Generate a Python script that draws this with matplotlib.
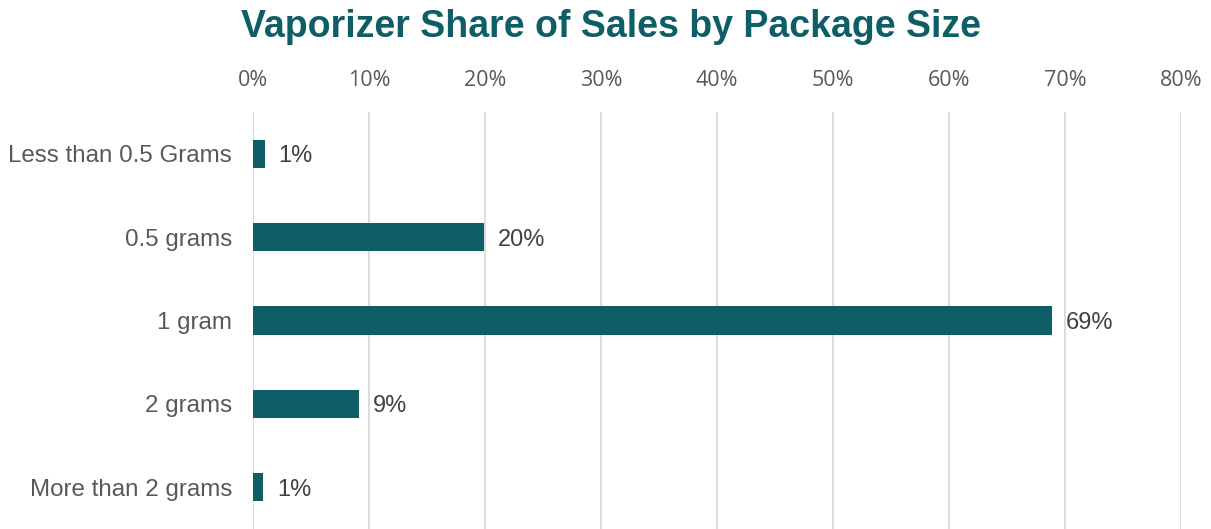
import matplotlib
matplotlib.use("Agg")
from matplotlib import pyplot as plt
from matplotlib.ticker import FuncFormatter

# 数据
categories = ["Less than 0.5 Grams", "0.5 grams", "1 gram", "2 grams", "More than 2 grams"]
shares = [1.0, 19.9, 68.9, 9.1, 0.9]
labels = ["1%", "20%", "69%", "9%", "1%"]

teal = "#0E5E67"

fig = plt.figure(figsize=(12.11, 5.29), dpi=100)
ax = fig.add_axes([253 / 1211, 0, (1181 - 253) / 1211, 1 - 112 / 529])

ypos = list(range(len(categories)))
ax.barh(ypos, shares, height=0.34, color=teal, zorder=3)

# 数据标签
for y, v, t in zip(ypos, shares, labels):
    ax.text(v + 1.2, y + 0.03, t, va="center", ha="left", fontsize=17,
            color="#404040", family="Liberation Sans")

ax.set_xlim(0, 80)
ax.set_ylim(len(categories) - 0.5, -0.5)
ax.set_yticks(ypos)
ax.set_yticklabels(categories, fontsize=17.4, color="#595959", family="Liberation Sans")
ax.set_xticks(range(0, 81, 10))
ax.xaxis.set_major_formatter(FuncFormatter(lambda x, p: "%d%%" % x))
ax.xaxis.tick_top()
for lab in ax.get_xticklabels():
    lab.set_family("Open Sans")
    lab.set_fontsize(15.5)
    lab.set_color("#595959")
ax.tick_params(axis="x", length=0, pad=15)
ax.tick_params(axis="y", length=0, pad=15)

ax.grid(axis="x", color="#D9D9D9", linewidth=1.3, zorder=0)
for s in ax.spines.values():
    s.set_visible(False)

fig.text(611 / 1211, 1 - 27 / 529, "Vaporizer Share of Sales by Package Size",
         ha="center", va="center", fontsize=27, fontweight="bold",
         color=teal, family="Liberation Sans")

fig.savefig("out.png", dpi=100)
